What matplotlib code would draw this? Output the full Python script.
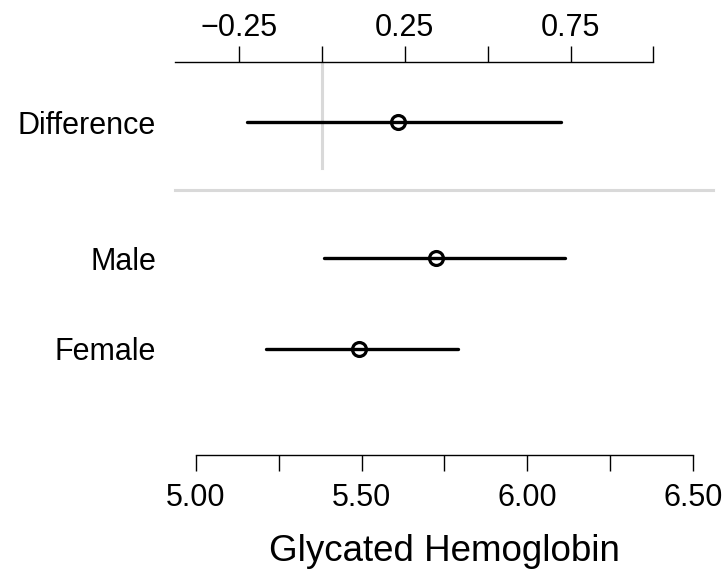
import matplotlib
matplotlib.use('Agg')
import matplotlib.pyplot as plt
import numpy as np

plt.rcParams['font.family'] = ['Liberation Sans', 'DejaVu Sans']

# group estimates (glycated hemoglobin)
groups = ["Female", "Male"]
group_mean = [5.493, 5.723]
group_lo = [5.211, 5.387]
group_hi = [5.792, 6.113]

# difference (Male - Female)
diff_label = "Difference"
diff_mean = 0.231
diff_lo = -0.226
diff_hi = 0.720

bottom_ticks = [5.00, 5.25, 5.50, 5.75, 6.00, 6.25, 6.50]
bottom_labels = ["5.00", "", "5.50", "", "6.00", "", "6.50"]
top_ticks = [-0.25, 0.00, 0.25, 0.50, 0.75, 1.00]
top_labels = ["\u22120.25", "", "0.25", "", "0.75", ""]

# layout
diff_zero = 5.38          # where difference 0 sits on the bottom scale
xlim = (4.9376, 6.5596)
ylim = (-1.169, 3.164)
row_y = [0, 1]
diff_y = 2.5
sep_y = 1.75

fig = plt.figure(figsize=(7.26, 5.70), dpi=100)
ax = fig.add_axes([175/726, 115/570, 538/726, 393/570])
ax.set_xlim(*xlim)
ax.set_ylim(*ylim)

lw = 2.4
for y, m, lo, hi in zip(row_y, group_mean, group_lo, group_hi):
  ax.plot([lo, hi], [y, y], color='black', lw=lw, solid_capstyle='round', zorder=3)
  ax.plot([m], [y], marker='o', ms=10, mew=2.3, mfc='none', mec='black', zorder=4)

# separator between groups and difference
ax.plot(xlim, [sep_y, sep_y], color='#d9d9d9', lw=2.2, zorder=1, clip_on=False)

for s in ['left', 'right', 'top']:
  ax.spines[s].set_visible(False)
ax.spines['bottom'].set_bounds(bottom_ticks[0], bottom_ticks[-1])
ax.spines['bottom'].set_linewidth(1.0)
ax.set_xticks(bottom_ticks)
ax.set_xticklabels(bottom_labels)
ax.tick_params(axis='x', direction='out', length=11.5, width=1.0, pad=8.5, labelsize=22)
ax.set_yticks(row_y + [diff_y])
ax.set_yticklabels(groups + [diff_label])
ax.tick_params(axis='y', length=0, pad=13.5, labelsize=22)
ax.set_xlabel("Glycated Hemoglobin", fontsize=26.5, labelpad=15)

# difference axis on top
ax2 = ax.twiny()
ax2.set_xlim(xlim[0] - diff_zero, xlim[1] - diff_zero)
ax2.set_ylim(*ylim)
for s in ['left', 'right', 'bottom']:
  ax2.spines[s].set_visible(False)
ax2.spines['top'].set_bounds(xlim[0] - diff_zero, top_ticks[-1])
ax2.spines['top'].set_linewidth(1.0)
ax2.set_xticks(top_ticks)
ax2.set_xticklabels(top_labels)
ax2.tick_params(axis='x', direction='out', length=11.5, width=1.0, pad=2.5, labelsize=22)

ax2.plot([0, 0], [2.0, ylim[1]], color='#d9d9d9', lw=2.2, zorder=1)
ax2.plot([diff_lo, diff_hi], [diff_y, diff_y], color='black', lw=lw, solid_capstyle='round', zorder=3)
ax2.plot([diff_mean], [diff_y], marker='o', ms=10, mew=2.3, mfc='none', mec='black', zorder=4)

fig.savefig('out.png', dpi=100)
